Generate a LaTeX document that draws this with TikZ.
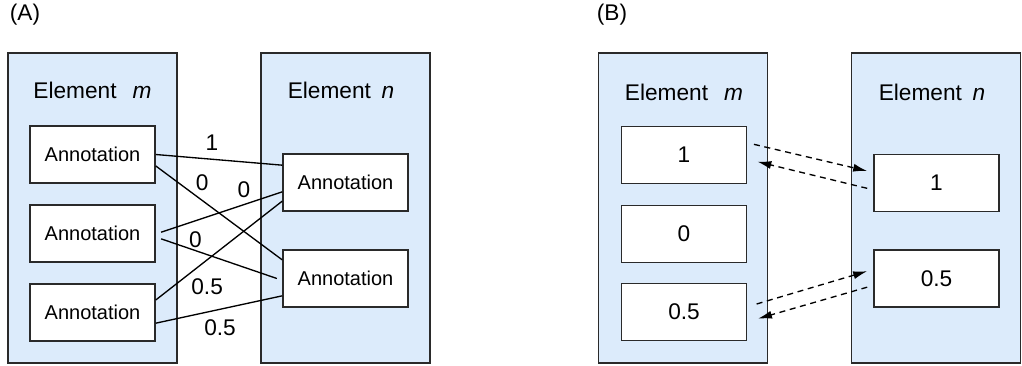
\documentclass[tikz,border=0pt]{standalone}
\usepackage{fontspec}
\setmainfont{Liberation Sans}
\definecolor{paleblue}{HTML}{DCEBFB}
\definecolor{edgegray}{HTML}{2A2A2A}
\usetikzlibrary{arrows.meta,positioning,calc}

\begin{document}
\begin{tikzpicture}[x=0.75pt, y=-0.75pt,
  element/.style={rectangle, draw=edgegray, fill=paleblue, line width=1pt,
    minimum width=126.75pt, minimum height=232.5pt, inner sep=0pt},
  annot/.style={rectangle, draw=edgegray, fill=white, line width=1.2pt,
    minimum width=93.75pt, minimum height=42.75pt, inner sep=0pt,
    font=\fontsize{15}{18}\selectfont},
  title/.style={font=\fontsize{17}{20}\selectfont, inner sep=0pt},
  weight/.style={font=\fontsize{17}{20}\selectfont, inner sep=0pt},
  link/.style={line width=1pt},
  flow/.style={line width=1pt, dash pattern=on 4.5pt off 3.5pt,
    -{Latex[length=10.5pt,width=6pt]}}]
  \useasboundingbox (0,0) rectangle (1022,365);

  % panel A
  \node[title] (pa) at (25,15) {(A)};
  \node[element] (ema) at (92.5,208) {};
  \node[element] (ena) at (345.5,208) {};
  \node[title] (tma) at (92.5,90) {Element\hspace{12pt}\textit{m}};
  \node[title] (tna) at (341,90) {Element\hspace{8pt}\textit{n}};
  \node[annot] (am1) at (92.5,154.5) {Annotation};
  \node[annot] (am2) at (92.5,233.5) {Annotation};
  \node[annot] (am3) at (92.5,312.5) {Annotation};
  \node[annot] (an1) at (345.5,182.5) {Annotation};
  \node[annot] (an2) at (345.5,278.5) {Annotation};

  \draw[link] (am1.east) -- ([yshift=13pt]an1.west)
    node[weight, pos=0.445, yshift=12.75pt] (w1) {1};
  \draw[link] ([yshift=-8.6pt]am1.east) -- ([yshift=14pt]an2.west)
    node[weight, pos=0.367, yshift=13pt] (w2) {0};
  \draw[link] ([xshift=4pt,yshift=1pt]am2.east) -- ([yshift=-7pt]an1.west)
    node[weight, pos=0.683, yshift=11pt] (w3) {0};
  \draw[link] ([xshift=4pt,yshift=-4pt]am2.east) -- ([xshift=-4pt]an2.west)
    node[weight, pos=0.297, yshift=8pt] (w4) {0};
  \draw[link] ([yshift=9.4pt]am3.east) -- ([yshift=-14pt]an1.west)
    node[weight, pos=0.406, yshift=-20pt] (w5) {0.5};
  \draw[link] ([yshift=-8pt]am3.east) -- ([yshift=-13pt]an2.west)
    node[weight, pos=0.508, yshift=-14pt] (w6) {0.5};

  % panel B
  \node[title] (pb) at (612,15) {(B)};
  \node[element] (emb) at (683,208) {};
  \node[element] (enb) at (936,208) {};
  \node[title] (tmb) at (684,92) {Element\hspace{12pt}\textit{m}};
  \node[title] (tnb) at (932,92) {Element\hspace{8pt}\textit{n}};
  \node[annot, font=\fontsize{17}{20}\selectfont] (bm1) at (684,155) {1};
  \node[annot, font=\fontsize{17}{20}\selectfont] (bm2) at (684,234) {0};
  \node[annot, font=\fontsize{17}{20}\selectfont] (bm3) at (684,312) {0.5};
  \node[annot, font=\fontsize{17}{20}\selectfont] (bn1) at (936.5,183) {1};
  \node[annot, font=\fontsize{17}{20}\selectfont] (bn2) at (936.5,278.5) {0.5};

  \draw[flow] ([xshift=5pt,yshift=8pt]bm1.east) -- ([xshift=-4.5pt,yshift=9pt]bn1.west);
  \draw[flow] ([xshift=-4.5pt,yshift=-4pt]bn1.west) -- ([xshift=7.5pt,yshift=-5pt]bm1.east);
  \draw[flow] ([xshift=7pt,yshift=6pt]bm3.east) -- ([xshift=-4.5pt,yshift=5.5pt]bn2.west);
  \draw[flow] ([xshift=-4.5pt,yshift=-6.5pt]bn2.west) -- ([xshift=8pt,yshift=-5pt]bm3.east);
\end{tikzpicture}
\end{document}
